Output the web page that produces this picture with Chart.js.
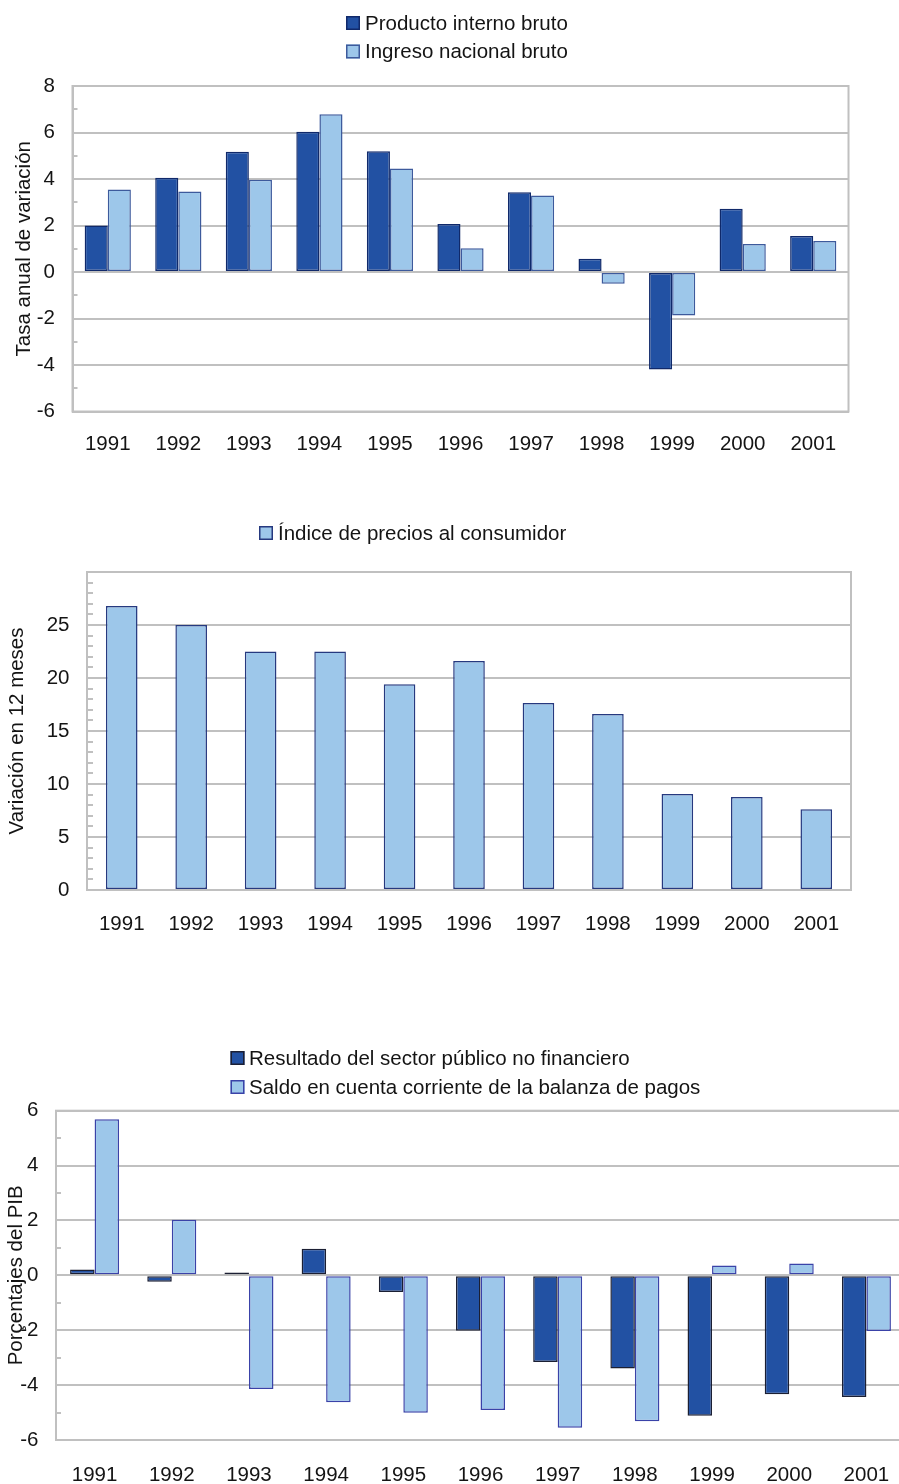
<!DOCTYPE html>
<html>
<head>
<meta charset="utf-8">
<script src="https://cdn.jsdelivr.net/npm/chart.js@4/dist/chart.umd.min.js"></script>
<style>
  html, body { margin: 0; padding: 0; background: #fff; width: 899px; height: 1484px; overflow: hidden; }
  .panel { position: absolute; left: 0; }
</style>
</head>
<body>
<div class="panel" style="top:0px"><canvas id="growth" width="899" height="470"></canvas></div>
<div class="panel" style="top:490px"><canvas id="prices" width="899" height="460"></canvas></div>
<div class="panel" style="top:1030px"><canvas id="balance" width="920" height="454"></canvas></div>
<script>
// Years shown on every category axis
const years = ['1991', '1992', '1993', '1994', '1995', '1996', '1997', '1998', '1999', '2000', '2001'];

// Panel 1: annual growth rates (%)
const gdpGrowth = [2.0, 4.05, 5.17, 6.03, 5.19, 2.06, 3.43, 0.57, -4.19, 2.72, 1.55];
const gniGrowth = [3.55, 3.46, 3.97, 6.78, 4.45, 1.02, 3.29, -0.50, -1.87, 1.20, 1.33];

// Panel 2: 12-month consumer price change (%)
const cpiChange = [26.8, 25.0, 22.5, 22.5, 19.4, 21.6, 17.65, 16.6, 9.06, 8.78, 7.62];

// Panel 3: balances as a share of GDP (%)
const publicBalance = [0.21, -0.23, 0.1, 0.97, -0.61, -2.02, -3.16, -3.39, -5.12, -4.33, -4.43];
const currentAccount = [5.69, 2.03, -4.14, -4.62, -5.01, -4.91, -5.55, -5.32, 0.36, 0.43, -2.03];

// Value-axis ranges
const growthAxis = { min: -6, max: 8, step: 2 };
const pricesAxis = { min: 0, max: 30, step: 5 };
const balanceAxis = { min: -6, max: 6, step: 2 };

const FONT_FAMILY = "'Liberation Sans', Arial, Helvetica, sans-serif";
const FONT_SIZE = 20.5;
const TEXT = '#141414';
const GRID = '#c0c0c0';
const DARK = '#2251a3';
const LIGHT = '#9dc7ea';

Chart.defaults.font.family = FONT_FAMILY;
Chart.defaults.font.size = FONT_SIZE;
Chart.defaults.color = TEXT;
Chart.defaults.animation = false;

// Plot frame plus short minor tick marks on the inner side of the value axis
const frameAndMinor = {
  id: 'frameAndMinor',
  beforeDatasetsDraw(chart, args, opts) {
    const { ctx, chartArea: a } = chart;
    const y = chart.scales.y;
    ctx.save();
    ctx.strokeStyle = GRID;
    ctx.lineWidth = 2;
    ctx.strokeRect(a.left, a.top, a.right - a.left, a.bottom - a.top);
    ctx.lineWidth = 2;
    for (let v = y.min; v <= y.max + 1e-9; v += opts.step) {
      if (Math.abs(v % opts.major) < 1e-9) continue;
      const py = Math.round(y.getPixelForValue(v));
      ctx.beginPath();
      ctx.moveTo(a.left, py);
      ctx.lineTo(a.left + opts.len, py);
      ctx.stroke();
    }
    ctx.restore();
  }
};

// Legend rows stacked vertically with a common left edge
const stackedLegend = {
  id: 'stackedLegend',
  afterDraw(chart, args, opts) {
    const ctx = chart.ctx;
    ctx.save();
    ctx.font = FONT_SIZE + 'px ' + FONT_FAMILY;
    ctx.textBaseline = 'middle';
    ctx.textAlign = 'left';
    chart.data.datasets.forEach((ds, i) => {
      const cy = opts.y + i * opts.rowGap;
      ctx.fillStyle = ds.backgroundColor;
      ctx.fillRect(opts.x, cy - 7, 14, 14);
      ctx.strokeStyle = ds.borderColor;
      ctx.lineWidth = 1.5;
      ctx.strokeRect(opts.x + 0.75, cy - 6.25, 12.5, 12.5);
      ctx.fillStyle = TEXT;
      ctx.fillText(ds.label, opts.textX, cy + 1);
    });
    ctx.restore();
  }
};

function buildOptions(p) {
  return {
    responsive: false,
    devicePixelRatio: 1,
    layout: { padding: { top: p.top, right: p.right, left: 0, bottom: 0 } },
    plugins: {
      legend: { display: false },
      tooltip: { enabled: false },
      frameAndMinor: { step: p.minorStep, major: p.axis.step, len: p.minorLen },
      stackedLegend: p.legend
    },
    scales: {
      x: {
        grid: { display: false, drawTicks: false },
        border: { display: true, color: GRID, width: 2 },
        ticks: { padding: p.xPad, maxRotation: 0, autoSkip: false, color: TEXT },
        afterFit(s) { s.height = p.xHeight; }
      },
      y: {
        min: p.axis.min,
        max: p.axis.max,
        grid: { color: GRID, lineWidth: 2, drawTicks: false },
        border: { display: true, color: GRID, width: 2 },
        ticks: {
          stepSize: p.axis.step,
          padding: 17.5,
          color: TEXT,
          callback: p.tickCallback || ((v) => v)
        },
        title: {
          display: true,
          text: p.title,
          color: TEXT,
          font: { size: FONT_SIZE },
          padding: { top: p.titlePad, bottom: 0 }
        },
        afterFit(s) { s.width = p.yWidth; }
      }
    }
  };
}

new Chart(document.getElementById('growth'), {
  type: 'bar',
  data: {
    labels: years,
    datasets: [
      { label: 'Producto interno bruto', data: gdpGrowth, backgroundColor: DARK, borderColor: '#10296a', borderWidth: 1.5, borderSkipped: false, categoryPercentage: 0.655, barPercentage: 1 },
      { label: 'Ingreso nacional bruto', data: gniGrowth, backgroundColor: LIGHT, borderColor: '#3d5a9c', borderWidth: 1.5, borderSkipped: false, categoryPercentage: 0.655, barPercentage: 1 }
    ]
  },
  options: buildOptions({
    top: 86, right: 50.5, yWidth: 72.5, xHeight: 58.5, xPad: 21,
    axis: growthAxis, minorStep: 1, minorLen: 5,
    title: 'Tasa anual de variación', titlePad: 12,
    legend: { x: 346, y: 23, rowGap: 28.5, textX: 365 }
  }),
  plugins: [frameAndMinor, stackedLegend]
});

new Chart(document.getElementById('prices'), {
  type: 'bar',
  data: {
    labels: years,
    datasets: [
      { label: 'Índice de precios al consumidor', data: cpiChange, backgroundColor: LIGHT, borderColor: '#26397f', borderWidth: 1.5, borderSkipped: false, categoryPercentage: 0.455, barPercentage: 1 }
    ]
  },
  options: buildOptions({
    top: 82, right: 48, yWidth: 87, xHeight: 60, xPad: 22,
    axis: pricesAxis, minorStep: 1, minorLen: 6,
    title: 'Variación en 12 meses', titlePad: 5,
    tickCallback: (v) => (v === pricesAxis.max ? '' : v),
    legend: { x: 259, y: 43, rowGap: 28.5, textX: 278 }
  }),
  plugins: [frameAndMinor, stackedLegend]
});

new Chart(document.getElementById('balance'), {
  type: 'bar',
  data: {
    labels: years,
    datasets: [
      { label: 'Resultado del sector público no financiero', data: publicBalance, backgroundColor: DARK, borderColor: '#1b1f33', borderWidth: 1.5, borderSkipped: false, categoryPercentage: 0.635, barPercentage: 1 },
      { label: 'Saldo en cuenta corriente de la balanza de pagos', data: currentAccount, backgroundColor: LIGHT, borderColor: '#3a42a8', borderWidth: 1.5, borderSkipped: false, categoryPercentage: 0.635, barPercentage: 1 }
    ]
  },
  options: buildOptions({
    top: 80.7, right: 15, yWidth: 56, xHeight: 44, xPad: 23,
    axis: balanceAxis, minorStep: 1, minorLen: 5,
    title: 'Porçentajes del PIB', titlePad: 4,
    legend: { x: 230.5, y: 28, rowGap: 29, textX: 249 }
  }),
  plugins: [frameAndMinor, stackedLegend]
});
</script>
</body>
</html>
